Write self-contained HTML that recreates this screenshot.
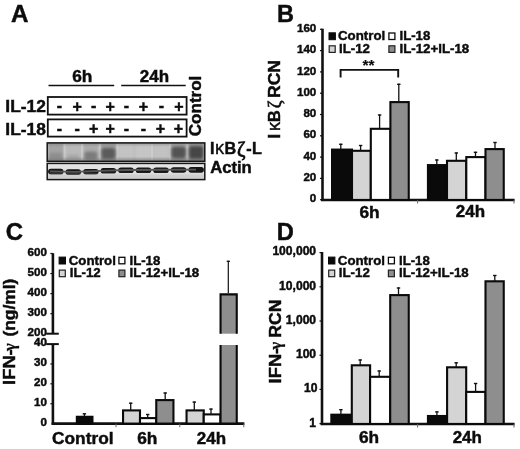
<!DOCTYPE html>
<html><head><meta charset="utf-8"><title>Figure</title>
<style>
html,body{margin:0;padding:0;background:#fff;overflow:hidden}
svg{display:block;filter:blur(0.35px)}
text{font-family:"Liberation Sans",Arial,sans-serif;font-weight:bold;fill:#0c0c0c;stroke:#0c0c0c;stroke-width:0.45px}
.gs{font-family:"Liberation Serif",serif;font-weight:bold;stroke-width:0.25px}
.gz{font-family:"Liberation Serif",serif;font-weight:normal;stroke-width:0.5px}
.gk{font-weight:normal;stroke-width:0.35px}
</style></head><body>
<svg width="520" height="449" viewBox="0 0 520 449">
<defs>
<filter id="bl05" x="-50%" y="-50%" width="200%" height="200%"><feGaussianBlur stdDeviation="0.7"/></filter>
<filter id="bl07" x="-50%" y="-50%" width="200%" height="200%"><feGaussianBlur stdDeviation="0.7"/></filter>
<filter id="bl1" x="-50%" y="-50%" width="200%" height="200%"><feGaussianBlur stdDeviation="1.2"/></filter>
<filter id="bl15" x="-50%" y="-50%" width="200%" height="200%"><feGaussianBlur stdDeviation="1.6"/></filter>
<clipPath id="cb1"><rect x="47" y="142.5" width="158" height="19"/></clipPath>
<clipPath id="cb2"><rect x="47" y="163" width="158" height="17"/></clipPath>
</defs>
<rect width="520" height="449" fill="#fff"/>
<text x="10.9" y="22.3" font-size="24.2" text-anchor="start" >A</text>
<text x="277" y="21.9" font-size="23.5" text-anchor="start" >B</text>
<text x="5.8" y="240" font-size="24" text-anchor="start" >C</text>
<text x="276.7" y="240.2" font-size="23.7" text-anchor="start" >D</text>
<text x="82.3" y="82.4" font-size="16.8" text-anchor="middle" textLength="20.2" lengthAdjust="spacingAndGlyphs" >6h</text>
<text x="154.4" y="82.4" font-size="16.8" text-anchor="middle" textLength="29.3" lengthAdjust="spacingAndGlyphs" >24h</text>
<line x1="48.5" y1="85.5" x2="114.2" y2="85.5" stroke="#111" stroke-width="1.7"/>
<line x1="121.2" y1="85.5" x2="185.7" y2="85.5" stroke="#111" stroke-width="1.7"/>
<text x="5.3" y="112.4" font-size="16.4" text-anchor="start" textLength="40.6" lengthAdjust="spacingAndGlyphs" >IL-12</text>
<text x="5.3" y="135.4" font-size="16.4" text-anchor="start" textLength="40.6" lengthAdjust="spacingAndGlyphs" >IL-18</text>
<rect x="47.8" y="97.0" width="138.8" height="17.6" fill="#fff" stroke="#111" stroke-width="1.8" />
<rect x="47.8" y="119.4" width="138.8" height="17.2" fill="#fff" stroke="#111" stroke-width="1.8" />
<text x="59.4" y="110.7" font-size="16" text-anchor="middle" >-</text>
<text x="77.1" y="111.7" font-size="16" text-anchor="middle" >+</text>
<text x="93.7" y="110.7" font-size="16" text-anchor="middle" >-</text>
<text x="110.2" y="111.7" font-size="16" text-anchor="middle" >+</text>
<text x="126.4" y="110.7" font-size="16" text-anchor="middle" >-</text>
<text x="143.4" y="111.7" font-size="16" text-anchor="middle" >+</text>
<text x="161.4" y="110.7" font-size="16" text-anchor="middle" >-</text>
<text x="178.9" y="111.7" font-size="16" text-anchor="middle" >+</text>
<text x="59.4" y="133.8" font-size="16" text-anchor="middle" >-</text>
<text x="77.1" y="133.8" font-size="16" text-anchor="middle" >-</text>
<text x="93.7" y="134.3" font-size="16" text-anchor="middle" >+</text>
<text x="110.2" y="134.3" font-size="16" text-anchor="middle" >+</text>
<text x="126.4" y="133.8" font-size="16" text-anchor="middle" >-</text>
<text x="143.4" y="133.8" font-size="16" text-anchor="middle" >-</text>
<text x="160.5" y="134.3" font-size="16" text-anchor="middle" >+</text>
<text x="178.5" y="134.3" font-size="16" text-anchor="middle" >+</text>
<text transform="translate(201.3,136.2) rotate(-90)" font-size="16.9" textLength="60.5" lengthAdjust="spacingAndGlyphs">Control</text>
<text y="154.4" font-size="16.2"><tspan x="209.9">I</tspan><tspan x="215" class="gk" font-size="18.3">κ</tspan><tspan x="224.4">B</tspan><tspan x="236.9" y="155.9" class="gz" font-size="20.5" style="stroke-width:0.7px">ζ</tspan><tspan x="246.3" y="154.4">-</tspan><tspan x="251.9">L</tspan></text>
<text x="210.2" y="172.9" font-size="16.2" text-anchor="start" textLength="41.6" lengthAdjust="spacingAndGlyphs" >Actin</text>
<g clip-path="url(#cb1)">
<rect x="47" y="142.5" width="158" height="19" fill="#bebebe"/>
<rect x="48.3" y="143" width="15" height="18" fill="#a2a2a2" opacity="0.95" filter="url(#bl1)"/>
<rect x="65.8" y="143" width="15" height="18" fill="#b8b8b8" opacity="0.9" filter="url(#bl1)"/>
<rect x="83.4" y="143" width="15" height="18" fill="#aaa" opacity="0.9" filter="url(#bl1)"/>
<rect x="100.9" y="143" width="15" height="18" fill="#9c9c9c" opacity="0.9" filter="url(#bl1)"/>
<rect x="118.5" y="143" width="15" height="18" fill="#c4c4c4" opacity="0.9" filter="url(#bl1)"/>
<rect x="136.0" y="143" width="15" height="18" fill="#c6c6c6" opacity="0.9" filter="url(#bl1)"/>
<rect x="153.5" y="143" width="15" height="18" fill="#c2c2c2" opacity="0.9" filter="url(#bl1)"/>
<rect x="171.1" y="143" width="15" height="18" fill="#a8a8a8" opacity="0.9" filter="url(#bl1)"/>
<rect x="188.7" y="143" width="15" height="18" fill="#999" opacity="0.9" filter="url(#bl1)"/>
<rect x="63.5" y="143" width="2.2" height="18" fill="#dedede" opacity="0.45" filter="url(#bl05)"/>
<rect x="81" y="143" width="2.2" height="18" fill="#dedede" opacity="0.45" filter="url(#bl05)"/>
<rect x="98.7" y="143" width="2.2" height="18" fill="#dedede" opacity="0.45" filter="url(#bl05)"/>
<rect x="116.2" y="143" width="2.2" height="18" fill="#dedede" opacity="0.45" filter="url(#bl05)"/>
<rect x="151" y="143" width="2.2" height="18" fill="#dedede" opacity="0.45" filter="url(#bl05)"/>
<rect x="168.8" y="143" width="2.2" height="18" fill="#dedede" opacity="0.45" filter="url(#bl05)"/>
<rect x="186.2" y="143" width="2.2" height="18" fill="#dedede" opacity="0.45" filter="url(#bl05)"/>
<rect x="84.4" y="151.5" width="13" height="8" rx="3" fill="#6e6e6e" opacity="0.8" filter="url(#bl15)"/>
<rect x="101.4" y="148.0" width="14" height="11" rx="3" fill="#505050" opacity="0.85" filter="url(#bl15)"/>
<rect x="48.8" y="153.0" width="14" height="6" rx="3" fill="#808080" opacity="0.6" filter="url(#bl15)"/>
<rect x="66.8" y="155.0" width="13" height="4" rx="3" fill="#909090" opacity="0.5" filter="url(#bl15)"/>
<rect x="171.35" y="146.5" width="14.5" height="12" rx="3" fill="#505050" opacity="0.95" filter="url(#bl15)"/>
<rect x="188.95" y="146.0" width="14.5" height="13" rx="3" fill="#424242" opacity="0.95" filter="url(#bl15)"/>
<rect x="47" y="158.5" width="158" height="3" fill="#555" opacity="0.45" filter="url(#bl1)"/>
<rect x="47" y="142" width="158" height="3" fill="#666" opacity="0.4" filter="url(#bl1)"/>
</g>
<rect x="47.2" y="142.9" width="157.6" height="18.4" fill="none" stroke="#151515" stroke-width="1.5" />
<g clip-path="url(#cb2)">
<rect x="47" y="163" width="158" height="17" fill="#e2e2e2"/>
<rect x="48.099999999999994" y="168.8" width="15.4" height="5.6" rx="2.7" fill="#141414" filter="url(#bl07)"/>
<rect x="65.6" y="169.3" width="15.4" height="5.6" rx="2.7" fill="#141414" filter="url(#bl07)"/>
<rect x="83.2" y="168.9" width="15.4" height="5.6" rx="2.7" fill="#141414" filter="url(#bl07)"/>
<rect x="100.7" y="168.0" width="15.4" height="5.6" rx="2.7" fill="#141414" filter="url(#bl07)"/>
<rect x="118.3" y="167.5" width="15.4" height="5.6" rx="2.7" fill="#141414" filter="url(#bl07)"/>
<rect x="135.8" y="167.5" width="15.4" height="5.6" rx="2.7" fill="#141414" filter="url(#bl07)"/>
<rect x="153.3" y="167.5" width="15.4" height="5.6" rx="2.7" fill="#141414" filter="url(#bl07)"/>
<rect x="170.9" y="167.2" width="15.4" height="5.6" rx="2.7" fill="#141414" filter="url(#bl07)"/>
<rect x="188.5" y="167.1" width="15.4" height="5.6" rx="2.7" fill="#141414" filter="url(#bl07)"/>
<path d="M50 171.3 L75 171.8 L108 170.6 L126 170 L196 169.6" stroke="#555" stroke-width="1.8" fill="none" filter="url(#bl07)"/>
<rect x="47" y="174" width="158" height="6" fill="#bbb" opacity="0.5" filter="url(#bl1)"/>
</g>
<rect x="47.2" y="163.4" width="157.6" height="16.2" fill="none" stroke="#151515" stroke-width="1.5" />
<text x="316.3" y="202.2" font-size="11.6" text-anchor="end" >0</text>
<line x1="320.0" y1="199.7" x2="322.5" y2="199.7" stroke="#111" stroke-width="1.2"/>
<text x="316.3" y="180.92999999999998" font-size="11.6" text-anchor="end" >20</text>
<line x1="320.0" y1="178.39999999999998" x2="322.5" y2="178.39999999999998" stroke="#111" stroke-width="1.2"/>
<text x="316.3" y="159.66" font-size="11.6" text-anchor="end" >40</text>
<line x1="320.0" y1="157.1" x2="322.5" y2="157.1" stroke="#111" stroke-width="1.2"/>
<text x="316.3" y="138.39" font-size="11.6" text-anchor="end" >60</text>
<line x1="320.0" y1="135.79999999999998" x2="322.5" y2="135.79999999999998" stroke="#111" stroke-width="1.2"/>
<text x="316.3" y="117.11999999999999" font-size="11.6" text-anchor="end" >80</text>
<line x1="320.0" y1="114.49999999999999" x2="322.5" y2="114.49999999999999" stroke="#111" stroke-width="1.2"/>
<text x="316.3" y="95.85" font-size="11.6" text-anchor="end" >100</text>
<line x1="320.0" y1="93.19999999999999" x2="322.5" y2="93.19999999999999" stroke="#111" stroke-width="1.2"/>
<text x="316.3" y="74.57999999999998" font-size="11.6" text-anchor="end" >120</text>
<line x1="320.0" y1="71.89999999999998" x2="322.5" y2="71.89999999999998" stroke="#111" stroke-width="1.2"/>
<text x="316.3" y="53.31" font-size="11.6" text-anchor="end" >140</text>
<line x1="320.0" y1="50.599999999999994" x2="322.5" y2="50.599999999999994" stroke="#111" stroke-width="1.2"/>
<text x="316.3" y="32.03999999999999" font-size="11.6" text-anchor="end" >160</text>
<line x1="320.0" y1="29.299999999999983" x2="322.5" y2="29.299999999999983" stroke="#111" stroke-width="1.2"/>
<line x1="322.5" y1="28.7" x2="322.5" y2="201.04999999999998" stroke="#111" stroke-width="2.6"/>
<line x1="321.2" y1="199.95" x2="514.6" y2="199.95" stroke="#111" stroke-width="2.6"/>
<line x1="417.6" y1="199.95" x2="417.6" y2="203.54999999999998" stroke="#666" stroke-width="1"/>
<line x1="514" y1="199.95" x2="514" y2="203.54999999999998" stroke="#666" stroke-width="1"/>
<rect x="332.05" y="149.6" width="19.95" height="50.35" fill="#0a0a0a" stroke="#0a0a0a" stroke-width="2.1" />
<line x1="340.8" y1="149.60000000000002" x2="340.8" y2="143.8" stroke="#111" stroke-width="1.3"/>
<line x1="339.1" y1="144.3" x2="342.5" y2="144.3" stroke="#111" stroke-width="1.4"/>
<rect x="352" y="150.8" width="18.8" height="49.15" fill="#d4d4d4" stroke="#0a0a0a" stroke-width="2.1" />
<line x1="360.6" y1="150.8" x2="360.6" y2="145" stroke="#111" stroke-width="1.3"/>
<line x1="358.90000000000003" y1="145.5" x2="362.3" y2="145.5" stroke="#111" stroke-width="1.4"/>
<rect x="370.8" y="128.8" width="19.6" height="71.15" fill="#ffffff" stroke="#0a0a0a" stroke-width="2.1" />
<line x1="379.6" y1="128.8" x2="379.6" y2="114.5" stroke="#111" stroke-width="1.3"/>
<line x1="377.90000000000003" y1="115.0" x2="381.3" y2="115.0" stroke="#111" stroke-width="1.4"/>
<rect x="390.4" y="102.1" width="18.35" height="97.85" fill="#8e8e8e" stroke="#0a0a0a" stroke-width="2.1" />
<line x1="398.8" y1="102.1" x2="398.8" y2="83.8" stroke="#111" stroke-width="1.3"/>
<line x1="397.1" y1="84.3" x2="400.5" y2="84.3" stroke="#111" stroke-width="1.4"/>
<rect x="427.95" y="165.1" width="19.05" height="34.85" fill="#0a0a0a" stroke="#0a0a0a" stroke-width="2.1" />
<line x1="436.8" y1="165.10000000000002" x2="436.8" y2="159.5" stroke="#111" stroke-width="1.3"/>
<line x1="435.1" y1="160.0" x2="438.5" y2="160.0" stroke="#111" stroke-width="1.4"/>
<rect x="447" y="160.8" width="19.3" height="39.15" fill="#d4d4d4" stroke="#0a0a0a" stroke-width="2.1" />
<line x1="456.3" y1="160.8" x2="456.3" y2="152.5" stroke="#111" stroke-width="1.3"/>
<line x1="454.6" y1="153.0" x2="458.0" y2="153.0" stroke="#111" stroke-width="1.4"/>
<rect x="466.3" y="157.1" width="19.2" height="42.85" fill="#ffffff" stroke="#0a0a0a" stroke-width="2.1" />
<line x1="475.5" y1="157.10000000000002" x2="475.5" y2="151.8" stroke="#111" stroke-width="1.3"/>
<line x1="473.8" y1="152.3" x2="477.2" y2="152.3" stroke="#111" stroke-width="1.4"/>
<rect x="485.5" y="149.1" width="18.25" height="50.85" fill="#8e8e8e" stroke="#0a0a0a" stroke-width="2.1" />
<line x1="495" y1="149.10000000000002" x2="495" y2="142" stroke="#111" stroke-width="1.3"/>
<line x1="493.3" y1="142.5" x2="496.7" y2="142.5" stroke="#111" stroke-width="1.4"/>
<path d="M340.6 77.6 V69.9 H398.2 V77.6" fill="none" stroke="#111" stroke-width="1.9"/>
<text x="368.6" y="69.9" font-size="15.5" text-anchor="middle" style="stroke-width:0.15px">**</text>
<rect x="329.0" y="32.8" width="6.4" height="6.9" fill="#0a0a0a" stroke="#0a0a0a" stroke-width="1" />
<text x="338.0" y="40.4" font-size="13.5" text-anchor="start" textLength="47.2" lengthAdjust="spacingAndGlyphs" >Control</text>
<rect x="388.90000000000003" y="33.0" width="6" height="6.5" fill="#ffffff" stroke="#0a0a0a" stroke-width="1.3" />
<text x="399.5" y="40.4" font-size="13.5" text-anchor="start" textLength="30.8" lengthAdjust="spacingAndGlyphs" >IL-18</text>
<rect x="329.2" y="45.8" width="6" height="6.6" fill="#d4d4d4" stroke="#222" stroke-width="1.2" />
<text x="339.0" y="52.9" font-size="13.5" text-anchor="start" textLength="31" lengthAdjust="spacingAndGlyphs" >IL-12</text>
<rect x="388.90000000000003" y="45.8" width="6" height="6.6" fill="#8e8e8e" stroke="#222" stroke-width="1.2" />
<text x="399.5" y="52.9" font-size="13.5" text-anchor="start" textLength="69.7" lengthAdjust="spacingAndGlyphs" >IL-12+IL-18</text>
<text x="369.6" y="217.5" font-size="16.8" text-anchor="middle" textLength="20.2" lengthAdjust="spacingAndGlyphs" >6h</text>
<text x="470.5" y="217.2" font-size="16.8" text-anchor="middle" textLength="29.3" lengthAdjust="spacingAndGlyphs" >24h</text>
<text transform="translate(280,137.6) rotate(-90)" font-size="16.3"><tspan x="-1">I</tspan><tspan x="6.6" class="gk" font-size="18.3">κ</tspan><tspan x="15.7">B</tspan><tspan x="29.4" y="1.2" class="gz" font-size="19">ζ</tspan><tspan x="39.6" y="0" textLength="38" lengthAdjust="spacingAndGlyphs">RCN</tspan></text>
<text x="46.9" y="426.0" font-size="11.6" text-anchor="end" >0</text>
<text x="46.9" y="406.1" font-size="11.6" text-anchor="end" >10</text>
<text x="46.9" y="386.2" font-size="11.6" text-anchor="end" >20</text>
<text x="46.9" y="366.3" font-size="11.6" text-anchor="end" >30</text>
<text x="46.9" y="346.4" font-size="11.6" text-anchor="end" >40</text>
<text x="46.9" y="336.4" font-size="11.6" text-anchor="end" >200</text>
<text x="46.9" y="316.34999999999997" font-size="11.6" text-anchor="end" >300</text>
<line x1="50.4" y1="313.65" x2="52.9" y2="313.65" stroke="#111" stroke-width="1.2"/>
<text x="46.9" y="296.29999999999995" font-size="11.6" text-anchor="end" >400</text>
<line x1="50.4" y1="293.59999999999997" x2="52.9" y2="293.59999999999997" stroke="#111" stroke-width="1.2"/>
<text x="46.9" y="276.24999999999994" font-size="11.6" text-anchor="end" >500</text>
<line x1="50.4" y1="273.54999999999995" x2="52.9" y2="273.54999999999995" stroke="#111" stroke-width="1.2"/>
<text x="46.9" y="256.2" font-size="11.6" text-anchor="end" >600</text>
<line x1="50.4" y1="253.5" x2="52.9" y2="253.5" stroke="#111" stroke-width="1.2"/>
<line x1="50.4" y1="403.70000000000005" x2="52.9" y2="403.70000000000005" stroke="#111" stroke-width="1.2"/>
<line x1="50.4" y1="383.8" x2="52.9" y2="383.8" stroke="#111" stroke-width="1.2"/>
<line x1="50.4" y1="363.90000000000003" x2="52.9" y2="363.90000000000003" stroke="#111" stroke-width="1.2"/>
<line x1="52.9" y1="253.2" x2="52.9" y2="333.7" stroke="#111" stroke-width="2.6"/>
<line x1="52.9" y1="344.1" x2="52.9" y2="424.70000000000005" stroke="#111" stroke-width="2.6"/>
<line x1="46.2" y1="333.7" x2="58.8" y2="333.7" stroke="#111" stroke-width="2"/>
<line x1="46.2" y1="344.1" x2="58.8" y2="344.1" stroke="#111" stroke-width="2"/>
<line x1="51.6" y1="423.6" x2="244.4" y2="423.6" stroke="#111" stroke-width="2.6"/>
<line x1="116" y1="423.6" x2="116" y2="427.20000000000005" stroke="#666" stroke-width="1"/>
<line x1="179.8" y1="423.6" x2="179.8" y2="427.20000000000005" stroke="#666" stroke-width="1"/>
<line x1="243.8" y1="423.6" x2="243.8" y2="427.20000000000005" stroke="#666" stroke-width="1"/>
<rect x="76.85" y="416.8" width="15.6" height="6.8" fill="#0a0a0a" stroke="#0a0a0a" stroke-width="2.1" />
<line x1="84.4" y1="416.8" x2="84.4" y2="413.3" stroke="#111" stroke-width="1.3"/>
<line x1="82.7" y1="413.8" x2="86.10000000000001" y2="413.8" stroke="#111" stroke-width="1.4"/>
<rect x="123.05" y="410.4" width="16.95" height="13.2" fill="#d4d4d4" stroke="#0a0a0a" stroke-width="2.1" />
<line x1="130.7" y1="410.40000000000003" x2="130.7" y2="402.7" stroke="#111" stroke-width="1.3"/>
<line x1="129.0" y1="403.2" x2="132.39999999999998" y2="403.2" stroke="#111" stroke-width="1.4"/>
<rect x="140" y="418.1" width="16.25" height="5.5" fill="#ffffff" stroke="#0a0a0a" stroke-width="2.1" />
<line x1="147.7" y1="418.1" x2="147.7" y2="414" stroke="#111" stroke-width="1.3"/>
<line x1="146.0" y1="414.5" x2="149.39999999999998" y2="414.5" stroke="#111" stroke-width="1.4"/>
<rect x="156.25" y="400.1" width="17.2" height="23.5" fill="#8e8e8e" stroke="#0a0a0a" stroke-width="2.1" />
<line x1="165.2" y1="400.1" x2="165.2" y2="392.5" stroke="#111" stroke-width="1.3"/>
<line x1="163.5" y1="393.0" x2="166.89999999999998" y2="393.0" stroke="#111" stroke-width="1.4"/>
<rect x="186.55" y="410.4" width="17.2" height="13.2" fill="#d4d4d4" stroke="#0a0a0a" stroke-width="2.1" />
<line x1="194.3" y1="410.40000000000003" x2="194.3" y2="401.6" stroke="#111" stroke-width="1.3"/>
<line x1="192.60000000000002" y1="402.1" x2="196.0" y2="402.1" stroke="#111" stroke-width="1.4"/>
<rect x="203.75" y="414.4" width="16.65" height="9.2" fill="#ffffff" stroke="#0a0a0a" stroke-width="2.1" />
<line x1="211" y1="414.40000000000003" x2="211" y2="408.6" stroke="#111" stroke-width="1.3"/>
<line x1="209.3" y1="409.1" x2="212.7" y2="409.1" stroke="#111" stroke-width="1.4"/>
<path d="M220.55 333.7 V294.35 H236.75 V333.7" fill="#8e8e8e" stroke="#0a0a0a" stroke-width="2.1"/>
<path d="M220.55 344.9 V423.6 H236.75 V344.9" fill="#8e8e8e" stroke="#0a0a0a" stroke-width="2.1"/>
<line x1="228.3" y1="293.3" x2="228.3" y2="260.8" stroke="#111" stroke-width="1.2"/>
<line x1="226.7" y1="261.3" x2="229.9" y2="261.3" stroke="#111" stroke-width="1.3"/>
<rect x="59.1" y="257.1" width="6.4" height="6.9" fill="#0a0a0a" stroke="#0a0a0a" stroke-width="1" />
<text x="68.69999999999999" y="264.7" font-size="13.5" text-anchor="start" textLength="47.2" lengthAdjust="spacingAndGlyphs" >Control</text>
<rect x="118.89999999999999" y="257.3" width="6" height="6.5" fill="#ffffff" stroke="#0a0a0a" stroke-width="1.3" />
<text x="129.5" y="264.7" font-size="13.5" text-anchor="start" textLength="30.8" lengthAdjust="spacingAndGlyphs" >IL-18</text>
<rect x="59.300000000000004" y="270.1" width="6" height="6.6" fill="#d4d4d4" stroke="#222" stroke-width="1.2" />
<text x="69.69999999999999" y="277.2" font-size="13.5" text-anchor="start" textLength="31" lengthAdjust="spacingAndGlyphs" >IL-12</text>
<rect x="118.89999999999999" y="270.1" width="6" height="6.6" fill="#8e8e8e" stroke="#222" stroke-width="1.2" />
<text x="129.5" y="277.2" font-size="13.5" text-anchor="start" textLength="69.7" lengthAdjust="spacingAndGlyphs" >IL-12+IL-18</text>
<text x="82.8" y="444" font-size="16.4" text-anchor="middle" textLength="61.4" lengthAdjust="spacingAndGlyphs" >Control</text>
<text x="147.3" y="444" font-size="16.8" text-anchor="middle" textLength="20.2" lengthAdjust="spacingAndGlyphs" >6h</text>
<text x="211.4" y="444" font-size="16.8" text-anchor="middle" textLength="29.3" lengthAdjust="spacingAndGlyphs" >24h</text>
<text transform="translate(15.4,383.8) rotate(-90)" font-size="16.3"><tspan x="-1.1" textLength="35.6" lengthAdjust="spacingAndGlyphs">IFN-</tspan><tspan x="32.9" class="gs" font-size="16.5">γ</tspan><tspan x="47.3" textLength="57.8" lengthAdjust="spacingAndGlyphs">(ng/ml)</tspan></text>
<text x="316.1" y="426.8" font-size="12.1" text-anchor="end" >1</text>
<line x1="319.5" y1="423.6" x2="322.0" y2="423.6" stroke="#111" stroke-width="1.2"/>
<text x="317.5" y="392.15000000000003" font-size="12.1" text-anchor="end" >10</text>
<line x1="319.5" y1="389.40000000000003" x2="322.0" y2="389.40000000000003" stroke="#111" stroke-width="1.2"/>
<text x="316.1" y="357.95000000000005" font-size="12.1" text-anchor="end" >100</text>
<line x1="319.5" y1="355.20000000000005" x2="322.0" y2="355.20000000000005" stroke="#111" stroke-width="1.2"/>
<text x="316.1" y="323.75" font-size="12.1" text-anchor="end" >1,000</text>
<line x1="319.5" y1="321.0" x2="322.0" y2="321.0" stroke="#111" stroke-width="1.2"/>
<text x="316.1" y="289.55" font-size="12.1" text-anchor="end" >10,000</text>
<line x1="319.5" y1="286.8" x2="322.0" y2="286.8" stroke="#111" stroke-width="1.2"/>
<text x="316.1" y="255.35000000000002" font-size="12.1" text-anchor="end" >100,000</text>
<line x1="319.5" y1="252.60000000000002" x2="322.0" y2="252.60000000000002" stroke="#111" stroke-width="1.2"/>
<line x1="322.0" y1="252" x2="322.0" y2="425.05" stroke="#111" stroke-width="2.6"/>
<line x1="320.7" y1="423.95" x2="514.6" y2="423.95" stroke="#111" stroke-width="2.6"/>
<line x1="417.6" y1="423.95" x2="417.6" y2="427.55" stroke="#666" stroke-width="1"/>
<line x1="514" y1="423.95" x2="514" y2="427.55" stroke="#666" stroke-width="1"/>
<rect x="331.35" y="414.7" width="20.45" height="9.25" fill="#0a0a0a" stroke="#0a0a0a" stroke-width="2.1" />
<line x1="340.9" y1="414.7" x2="340.9" y2="409.2" stroke="#111" stroke-width="1.3"/>
<line x1="339.2" y1="409.7" x2="342.59999999999997" y2="409.7" stroke="#111" stroke-width="1.4"/>
<rect x="351.8" y="365.3" width="18.3" height="58.65" fill="#d4d4d4" stroke="#0a0a0a" stroke-width="2.1" />
<line x1="360.2" y1="365.3" x2="360.2" y2="359.5" stroke="#111" stroke-width="1.3"/>
<line x1="358.5" y1="360.0" x2="361.9" y2="360.0" stroke="#111" stroke-width="1.4"/>
<rect x="370.1" y="376.8" width="20.1" height="47.15" fill="#ffffff" stroke="#0a0a0a" stroke-width="2.1" />
<line x1="379.2" y1="376.8" x2="379.2" y2="370.5" stroke="#111" stroke-width="1.3"/>
<line x1="377.5" y1="371.0" x2="380.9" y2="371.0" stroke="#111" stroke-width="1.4"/>
<rect x="390.2" y="295.1" width="18.55" height="128.85" fill="#8e8e8e" stroke="#0a0a0a" stroke-width="2.1" />
<line x1="398.5" y1="295.1" x2="398.5" y2="287.5" stroke="#111" stroke-width="1.3"/>
<line x1="396.8" y1="288.0" x2="400.2" y2="288.0" stroke="#111" stroke-width="1.4"/>
<rect x="427.95" y="416.0" width="19.15" height="7.95" fill="#0a0a0a" stroke="#0a0a0a" stroke-width="2.1" />
<line x1="436.9" y1="416.0" x2="436.9" y2="411.4" stroke="#111" stroke-width="1.3"/>
<line x1="435.2" y1="411.9" x2="438.59999999999997" y2="411.9" stroke="#111" stroke-width="1.4"/>
<rect x="447.1" y="367.3" width="19.1" height="56.65" fill="#d4d4d4" stroke="#0a0a0a" stroke-width="2.1" />
<line x1="456.2" y1="367.3" x2="456.2" y2="362.3" stroke="#111" stroke-width="1.3"/>
<line x1="454.5" y1="362.8" x2="457.9" y2="362.8" stroke="#111" stroke-width="1.4"/>
<rect x="466.2" y="391.9" width="19.3" height="32.05" fill="#ffffff" stroke="#0a0a0a" stroke-width="2.1" />
<line x1="475.6" y1="391.90000000000003" x2="475.6" y2="383" stroke="#111" stroke-width="1.3"/>
<line x1="473.90000000000003" y1="383.5" x2="477.3" y2="383.5" stroke="#111" stroke-width="1.4"/>
<rect x="485.5" y="281.3" width="18.25" height="142.65" fill="#8e8e8e" stroke="#0a0a0a" stroke-width="2.1" />
<line x1="494.8" y1="281.3" x2="494.8" y2="275" stroke="#111" stroke-width="1.3"/>
<line x1="493.1" y1="275.5" x2="496.5" y2="275.5" stroke="#111" stroke-width="1.4"/>
<rect x="328.5" y="257.1" width="6.4" height="6.9" fill="#0a0a0a" stroke="#0a0a0a" stroke-width="1" />
<text x="337.8" y="264.7" font-size="13.5" text-anchor="start" textLength="47.2" lengthAdjust="spacingAndGlyphs" >Control</text>
<rect x="388.40000000000003" y="257.3" width="6" height="6.5" fill="#ffffff" stroke="#0a0a0a" stroke-width="1.3" />
<text x="399.0" y="264.7" font-size="13.5" text-anchor="start" textLength="30.8" lengthAdjust="spacingAndGlyphs" >IL-18</text>
<rect x="328.7" y="270.1" width="6" height="6.6" fill="#d4d4d4" stroke="#222" stroke-width="1.2" />
<text x="338.8" y="277.2" font-size="13.5" text-anchor="start" textLength="31" lengthAdjust="spacingAndGlyphs" >IL-12</text>
<rect x="388.40000000000003" y="270.1" width="6" height="6.6" fill="#8e8e8e" stroke="#222" stroke-width="1.2" />
<text x="399.0" y="277.2" font-size="13.5" text-anchor="start" textLength="69.7" lengthAdjust="spacingAndGlyphs" >IL-12+IL-18</text>
<text x="369" y="443.2" font-size="16.8" text-anchor="middle" textLength="20.2" lengthAdjust="spacingAndGlyphs" >6h</text>
<text x="467.3" y="443.2" font-size="16.8" text-anchor="middle" textLength="29.3" lengthAdjust="spacingAndGlyphs" >24h</text>
<text transform="translate(280.6,382.3) rotate(-90)" font-size="16.3"><tspan x="-1.1" textLength="35.6" lengthAdjust="spacingAndGlyphs">IFN-</tspan><tspan x="32.9" class="gs" font-size="16.5">γ</tspan><tspan x="44.6" textLength="38.2" lengthAdjust="spacingAndGlyphs">RCN</tspan></text>
</svg>
</body></html>
